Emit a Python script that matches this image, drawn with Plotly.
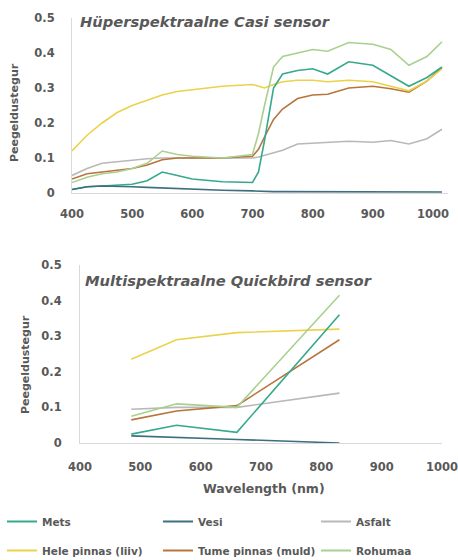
import plotly.graph_objects as go

W, H = 458, 560

# ---------------- data ----------------
casi_wl = [400, 425, 450, 475, 500, 525, 550, 575, 600, 650, 700, 710, 720, 735, 750,
           775, 800, 825, 860, 900, 930, 960, 990, 1015]
casi_mets = [0.010, 0.018, 0.020, 0.022, 0.025, 0.035, 0.060, 0.050, 0.040, 0.032, 0.030,
             0.060, 0.150, 0.300, 0.340, 0.350, 0.355, 0.340, 0.375, 0.365, 0.335, 0.305, 0.330, 0.360]
casi_vesi = [0.010, 0.018, 0.020, 0.020, 0.018, 0.016, 0.014, 0.012, 0.010, 0.008, 0.006,
             0.005, 0.005, 0.004, 0.004, 0.004, 0.003, 0.003, 0.003, 0.003, 0.003, 0.003, 0.003, 0.003]
casi_asfalt = [0.050, 0.070, 0.085, 0.090, 0.095, 0.098, 0.100, 0.100, 0.100, 0.100, 0.100,
               0.103, 0.108, 0.115, 0.122, 0.140, 0.142, 0.145, 0.148, 0.145, 0.150, 0.140, 0.155, 0.182]
casi_hele = [0.120, 0.165, 0.200, 0.230, 0.250, 0.265, 0.280, 0.290, 0.295, 0.305, 0.310,
             0.305, 0.300, 0.310, 0.318, 0.322, 0.322, 0.318, 0.322, 0.318, 0.305, 0.292, 0.320, 0.355]
casi_tume = [0.040, 0.055, 0.060, 0.065, 0.070, 0.080, 0.095, 0.100, 0.100, 0.100, 0.105,
             0.125, 0.160, 0.210, 0.240, 0.270, 0.280, 0.282, 0.300, 0.305, 0.298, 0.288, 0.320, 0.358]
casi_rohumaa = [0.030, 0.045, 0.055, 0.060, 0.070, 0.085, 0.120, 0.110, 0.105, 0.100, 0.110,
                0.170, 0.250, 0.360, 0.390, 0.400, 0.410, 0.405, 0.430, 0.425, 0.410, 0.365, 0.390, 0.432]

qb_wl = [485, 560, 660, 830]
qb_mets = [0.025, 0.050, 0.030, 0.360]
qb_vesi = [0.020, 0.015, 0.010, 0.000]
qb_asfalt = [0.095, 0.100, 0.100, 0.140]
qb_hele = [0.235, 0.290, 0.310, 0.320]
qb_tume = [0.065, 0.090, 0.105, 0.290]
qb_rohumaa = [0.075, 0.110, 0.100, 0.415]

series_names = ["Mets", "Vesi", "Asfalt", "Hele pinnas (liiv)", "Tume pinnas (muld)", "Rohumaa"]
series_colors = ["#36a98c", "#3e6f80", "#b8b8b8", "#ecd24a", "#b8743c", "#a9d08e"]

x_ticks = [400, 500, 600, 700, 800, 900, 1000]
y_ticks = [0, 0.1, 0.2, 0.3, 0.4, 0.5]
y_ticktext = ["0", "0.1", "0.2", "0.3", "0.4", "0.5"]

top_title = "Hüperspektraalne Casi sensor"
bottom_title = "Multispektraalne Quickbird sensor"
y_title = "Peegeldustegur"
x_title = "Wavelength (nm)"

# ---------------- figure ----------------
FONT = "DejaVu Sans, sans-serif"
TXT = "#595959"

casi_series = [casi_mets, casi_vesi, casi_asfalt, casi_hele, casi_tume, casi_rohumaa]
qb_series = [qb_mets, qb_vesi, qb_asfalt, qb_hele, qb_tume, qb_rohumaa]

fig = go.Figure()
draw_order = [2, 4, 3, 5, 0, 1]
for i in draw_order:
    fig.add_trace(go.Scatter(x=casi_wl, y=casi_series[i], mode="lines",
                             line=dict(color=series_colors[i], width=1.6),
                             xaxis="x", yaxis="y", showlegend=False, hoverinfo="skip"))
for i in draw_order:
    fig.add_trace(go.Scatter(x=qb_wl, y=qb_series[i], mode="lines",
                             line=dict(color=series_colors[i], width=1.6),
                             xaxis="x2", yaxis="y2", showlegend=False, hoverinfo="skip"))
# legend entries: three columns, two rows
legend_ids = ["legend", "legend2", "legend3"]
for i, (n, c) in enumerate(zip(series_names, series_colors)):
    fig.add_trace(go.Scatter(x=[None], y=[None], mode="lines", name=n,
                             line=dict(color=c, width=2),
                             legend=legend_ids[i % 3], legendgroup=f"g{i}",
                             xaxis="x2", yaxis="y2", hoverinfo="skip"))

def px(v):
    return v / W

def py(v):
    return 1 - v / H

tickfont = dict(family=FONT, size=11.5, color=TXT, weight=700)

axis_common = dict(showgrid=False, zeroline=False, showline=True, linecolor="#d9d9d9",
                   linewidth=1, ticks="", tickfont=tickfont, ticklabeloverflow="allow")

legfont = dict(family=FONT, size=10.5, color=TXT, weight=700)
leg_common = dict(orientation="v", yanchor="top", xanchor="left", tracegroupgap=10,
                  itemwidth=30, font=legfont, bgcolor="rgba(0,0,0,0)", traceorder="grouped")

fig.update_layout(
    width=W, height=H,
    margin=dict(l=0, r=0, t=0, b=0, autoexpand=False),
    paper_bgcolor="white", plot_bgcolor="white",
    font=dict(family=FONT, color=TXT),
    xaxis=dict(domain=[px(72), px(448)], range=[400, 1025], anchor="y",
               tickvals=x_ticks, ticklabelstandoff=10, **axis_common),
    yaxis=dict(domain=[py(193), py(18)], range=[0, 0.5], anchor="x",
               tickvals=y_ticks, ticktext=y_ticktext, ticklabelstandoff=14, **axis_common),
    xaxis2=dict(domain=[px(80), px(442)], range=[400, 1000], anchor="y2",
                tickvals=x_ticks, ticklabelstandoff=13, **axis_common),
    yaxis2=dict(domain=[py(443), py(265)], range=[0, 0.5], anchor="x2",
                tickvals=y_ticks, ticktext=y_ticktext, ticklabelstandoff=15, **axis_common),
    legend=dict(x=px(2), y=py(507), **leg_common),
    legend2=dict(x=px(158), y=py(507), **leg_common),
    legend3=dict(x=px(316), y=py(507), **leg_common),
    hovermode=False,
)

title_font = dict(family=FONT, size=14.7, color=TXT, weight=700, style="italic")
fig.add_annotation(text=top_title, xref="paper", yref="paper", x=px(78), y=py(22),
                   xanchor="left", yanchor="middle", showarrow=False, font=title_font)
fig.add_annotation(text=bottom_title, xref="paper", yref="paper", x=px(83), y=py(280),
                   xanchor="left", yanchor="middle", showarrow=False, font=title_font)
ytf = dict(family=FONT, size=11, color=TXT, weight=700)
fig.add_annotation(text=y_title, xref="paper", yref="paper", x=px(15), y=py(113),
                   xanchor="center", yanchor="middle", showarrow=False, textangle=-90, font=ytf)
fig.add_annotation(text=y_title, xref="paper", yref="paper", x=px(25), y=py(365),
                   xanchor="center", yanchor="middle", showarrow=False, textangle=-90, font=ytf)
fig.add_annotation(text=x_title, xref="paper", yref="paper", x=px(264), y=py(488),
                   xanchor="center", yanchor="middle", showarrow=False,
                   font=dict(family=FONT, size=12.5, color=TXT, weight=700))

fig.write_html("out.html", config={"displayModeBar": False},
               post_script="document.body.style.margin='0';")
